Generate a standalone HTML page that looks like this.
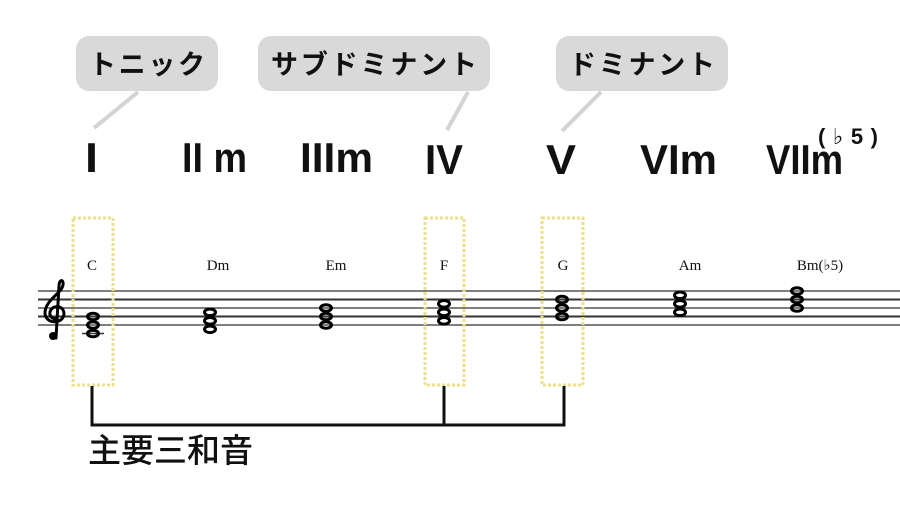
<!DOCTYPE html>
<html><head><meta charset="utf-8"><style>
html,body{margin:0;padding:0;background:#fff;}
svg{display:block}
.rn{font-family:"Liberation Sans",sans-serif;font-weight:bold;font-size:42px;fill:#111}
.jp{font-family:"Liberation Sans","Noto Sans CJK JP",sans-serif;font-weight:bold;font-size:27px;fill:#111}
.ch{font-family:"Liberation Serif",serif;font-size:15px;fill:#111}
</style></head><body>
<svg width="900" height="506" viewBox="0 0 900 506" xmlns="http://www.w3.org/2000/svg">
<rect width="900" height="506" fill="#fff"/>
<rect x="76" y="36" width="142" height="55" rx="13" fill="#d9d9d9"/>
<rect x="258" y="36" width="232" height="55" rx="13" fill="#d9d9d9"/>
<rect x="556" y="36" width="172" height="55" rx="13" fill="#d9d9d9"/>
<g stroke="#d3d3d3" stroke-width="4">
<line x1="138" y1="92" x2="94" y2="128"/>
<line x1="468" y1="92" x2="447" y2="130"/>
<line x1="601" y1="92" x2="562" y2="131"/>
</g>
<text class="jp" x="147" y="74" text-anchor="middle" textLength="116">トニック</text>
<text class="jp" x="374" y="74" text-anchor="middle" textLength="206">サブドミナント</text>
<text class="jp" x="642" y="74" text-anchor="middle" textLength="146">ドミナント</text>
<text class="rn" x="85" y="172" textLength="13" lengthAdjust="spacingAndGlyphs">I</text>
<text class="rn" x="182" y="172" textLength="65" lengthAdjust="spacingAndGlyphs">II m</text>
<text class="rn" x="300" y="172" textLength="73" lengthAdjust="spacingAndGlyphs">IIIm</text>
<text class="rn" x="425" y="174" textLength="38" lengthAdjust="spacingAndGlyphs">IV</text>
<text class="rn" x="546" y="174" textLength="30" lengthAdjust="spacingAndGlyphs">V</text>
<text class="rn" x="640" y="174" textLength="77" lengthAdjust="spacingAndGlyphs">VIm</text>
<text class="rn" x="766" y="174" textLength="77" lengthAdjust="spacingAndGlyphs">VIIm</text>
<text x="818" y="144" font-family="Liberation Sans,DejaVu Sans,sans-serif" font-weight="bold" font-size="22" fill="#111" textLength="60">(♭5)</text>
<g stroke="#333">
<line x1="38" y1="291" x2="900" y2="291" stroke-width="1.3"/>
<line x1="38" y1="299.5" x2="900" y2="299.5" stroke-width="2"/>
<line x1="38" y1="308" x2="900" y2="308" stroke-width="1.3"/>
<line x1="38" y1="316.5" x2="900" y2="316.5" stroke-width="2"/>
<line x1="38" y1="325" x2="900" y2="325" stroke-width="1.3"/>
</g>
<path d="M56 338 L59 286 C59 279 64 279 63 285 C62 293 45 300 45 313 C45 324 63 325 64 314 C64 305 52 304 50 312 C49 317 54 320 57 318" fill="none" stroke="#000" stroke-width="3" stroke-linecap="round"/>
<circle cx="53" cy="336" r="4" fill="#000"/>
<g class="ch" text-anchor="middle">
<text x="92" y="270">C</text><text x="218" y="270">Dm</text><text x="336" y="270">Em</text>
<text x="444" y="270">F</text><text x="563" y="270">G</text><text x="690" y="270">Am</text><text x="820" y="270">Bm(♭5)</text>
</g>
<g fill="none" stroke="#000" stroke-width="3">
<line x1="82" y1="333.5" x2="104" y2="333.5" stroke-width="1.5" stroke="#333"/>
<ellipse cx="93" cy="333.5" rx="5.5" ry="3.3"/><ellipse cx="93" cy="325" rx="5.5" ry="3.3"/><ellipse cx="93" cy="316.5" rx="5.5" ry="3.3"/>
<ellipse cx="210" cy="329.3" rx="5.5" ry="3.3"/><ellipse cx="210" cy="320.8" rx="5.5" ry="3.3"/><ellipse cx="210" cy="312.3" rx="5.5" ry="3.3"/>
<ellipse cx="326" cy="325" rx="5.5" ry="3.3"/><ellipse cx="326" cy="316.5" rx="5.5" ry="3.3"/><ellipse cx="326" cy="308" rx="5.5" ry="3.3"/>
<ellipse cx="444" cy="320.8" rx="5.5" ry="3.3"/><ellipse cx="444" cy="312.3" rx="5.5" ry="3.3"/><ellipse cx="444" cy="303.8" rx="5.5" ry="3.3"/>
<ellipse cx="562" cy="316.5" rx="5.5" ry="3.3"/><ellipse cx="562" cy="308" rx="5.5" ry="3.3"/><ellipse cx="562" cy="299.5" rx="5.5" ry="3.3"/>
<ellipse cx="680" cy="312.3" rx="5.5" ry="3.3"/><ellipse cx="680" cy="303.8" rx="5.5" ry="3.3"/><ellipse cx="680" cy="295.3" rx="5.5" ry="3.3"/>
<ellipse cx="797" cy="308" rx="5.5" ry="3.3"/><ellipse cx="797" cy="299.5" rx="5.5" ry="3.3"/><ellipse cx="797" cy="291" rx="5.5" ry="3.3"/>
</g>
<g fill="none" stroke="#eedf8a" stroke-width="3" stroke-dasharray="3 2">
<rect x="73" y="218" width="40" height="167"/>
<rect x="425" y="218" width="39" height="167"/>
<rect x="542" y="218" width="41" height="167"/>
</g>
<path d="M92 386 V425 H564 V386 M444 386 V425" fill="none" stroke="#111" stroke-width="3"/>
<text x="88" y="462" font-family="Liberation Sans,Noto Sans CJK JP,sans-serif" font-size="33" font-weight="500" fill="#111" textLength="165">主要三和音</text>
</svg>
</body></html>
